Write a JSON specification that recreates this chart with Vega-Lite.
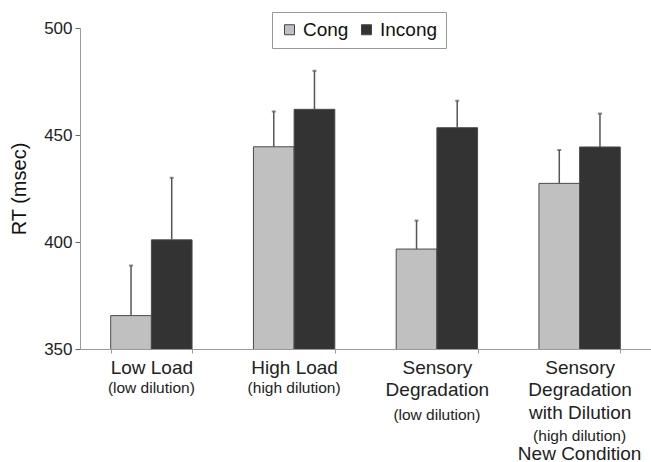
{
  "$schema": "https://vega.github.io/schema/vega-lite/v6.json",
  "width": 571,
  "height": 321,
  "autosize": "none",
  "padding": {"left": 80, "top": 28, "right": 0, "bottom": 113},
  "background": "white",
  "config": {
    "view": {"stroke": null},
    "font": "Liberation Sans",
    "axis": {"grid": false, "labelFont": "Liberation Sans", "titleFont": "Liberation Sans"}
  },
  "data": {
    "values": [
      {"condition": "Low Load", "type": "Cong", "rt": 365.6, "upper": 389},
      {"condition": "Low Load", "type": "Incong", "rt": 401, "upper": 430},
      {"condition": "High Load", "type": "Cong", "rt": 444.5, "upper": 461},
      {"condition": "High Load", "type": "Incong", "rt": 462, "upper": 480},
      {"condition": "Sensory Degradation", "type": "Cong", "rt": 396.7, "upper": 410},
      {"condition": "Sensory Degradation", "type": "Incong", "rt": 453.4, "upper": 466},
      {"condition": "Sensory Degradation with Dilution", "type": "Cong", "rt": 427.4, "upper": 443},
      {"condition": "Sensory Degradation with Dilution", "type": "Incong", "rt": 444.4, "upper": 460}
    ]
  },
  "resolve": {"axis": {"x": "independent"}},
  "layer": [
    {
      "mark": {"type": "bar", "stroke": "#4a4a4a", "strokeWidth": 1, "clip": true},
      "encoding": {
        "x": {
          "field": "condition", "type": "nominal",
          "scale": {"domain": ["Low Load", "High Load", "Sensory Degradation", "Sensory Degradation with Dilution"], "paddingInner": 0.43, "paddingOuter": 0.215},
          "axis": {
            "orient": "bottom", "title": null, "labelAngle": 0,
            "labelExpr": "datum.value == 'Sensory Degradation' ? ['Sensory', 'Degradation'] : datum.value == 'Sensory Degradation with Dilution' ? ['Sensory', 'Degradation', 'with Dilution'] : datum.value",
            "labelFontSize": 19, "labelColor": "#222", "labelLineHeight": 22.5, "labelPadding": 5,
            "labelOverlap": false, "labelLimit": 300,
            "domainColor": "#9a9a9a", "tickColor": "#9a9a9a", "tickSize": 4, "tickBand": "extent"
          }
        },
        "xOffset": {"field": "type", "type": "nominal", "scale": {"paddingInner": 0, "paddingOuter": 0}},
        "y": {
          "field": "rt", "type": "quantitative",
          "scale": {"domain": [350, 500], "zero": false, "nice": false},
          "axis": {
            "title": "RT (msec)", "values": [350, 400, 450, 500],
            "labelFontSize": 17, "labelColor": "#222", "labelPadding": 3,
            "tickSize": 5, "tickColor": "#666", "domainColor": "#9a9a9a",
            "titleFontSize": 20, "titleFontWeight": "normal", "titleColor": "#111", "titlePadding": 14
          }
        },
        "color": {
          "field": "type", "type": "nominal",
          "scale": {"domain": ["Cong", "Incong"], "range": ["#c0c0c0", "#333333"]},
          "legend": {
            "title": null, "orient": "none", "legendX": 192, "legendY": -16,
            "direction": "horizontal", "symbolType": "square", "symbolSize": 100,
            "symbolStrokeColor": "#444", "symbolStrokeWidth": 1,
            "labelFontSize": 19, "labelColor": "#111", "labelOffset": 4,
            "columnPadding": 8, "padding": 8, "strokeColor": "#999", "fillColor": "white"
          }
        }
      }
    },
    {
      "mark": {"type": "rule", "color": "#555", "strokeWidth": 1.5},
      "encoding": {
        "x": {
          "field": "condition", "type": "nominal",
          "axis": {
            "orient": "bottom", "title": null, "labelAngle": 0,
            "labelExpr": "datum.value == 'Low Load' ? '(low dilution)' : datum.value == 'High Load' ? '(high dilution)' : datum.value == 'Sensory Degradation' ? '(low dilution)' : '(high dilution)'",
            "labelFontSize": 15.5, "labelColor": "#222",
            "labelPadding": {"condition": [
              {"test": "datum.value == 'Sensory Degradation'", "value": 58.5},
              {"test": "datum.value == 'Sensory Degradation with Dilution'", "value": 79}
            ], "value": 31},
            "labelOverlap": false, "labelLimit": 300,
            "domain": false, "ticks": false
          }
        },
        "xOffset": {"field": "type", "type": "nominal"},
        "y": {"field": "rt", "type": "quantitative"},
        "y2": {"field": "upper"}
      }
    },
    {
      "mark": {"type": "tick", "color": "#555", "thickness": 2, "size": 4},
      "encoding": {
        "x": {
          "field": "condition", "type": "nominal",
          "axis": {
            "orient": "bottom", "title": null, "labelAngle": 0,
            "labelExpr": "datum.value == 'Sensory Degradation with Dilution' ? 'New Condition' : ''",
            "labelFontSize": 19, "labelColor": "#222", "labelPadding": 95,
            "labelOverlap": false, "labelLimit": 300,
            "domain": false, "ticks": false
          }
        },
        "xOffset": {"field": "type", "type": "nominal"},
        "y": {"field": "upper", "type": "quantitative"}
      }
    }
  ]
}
